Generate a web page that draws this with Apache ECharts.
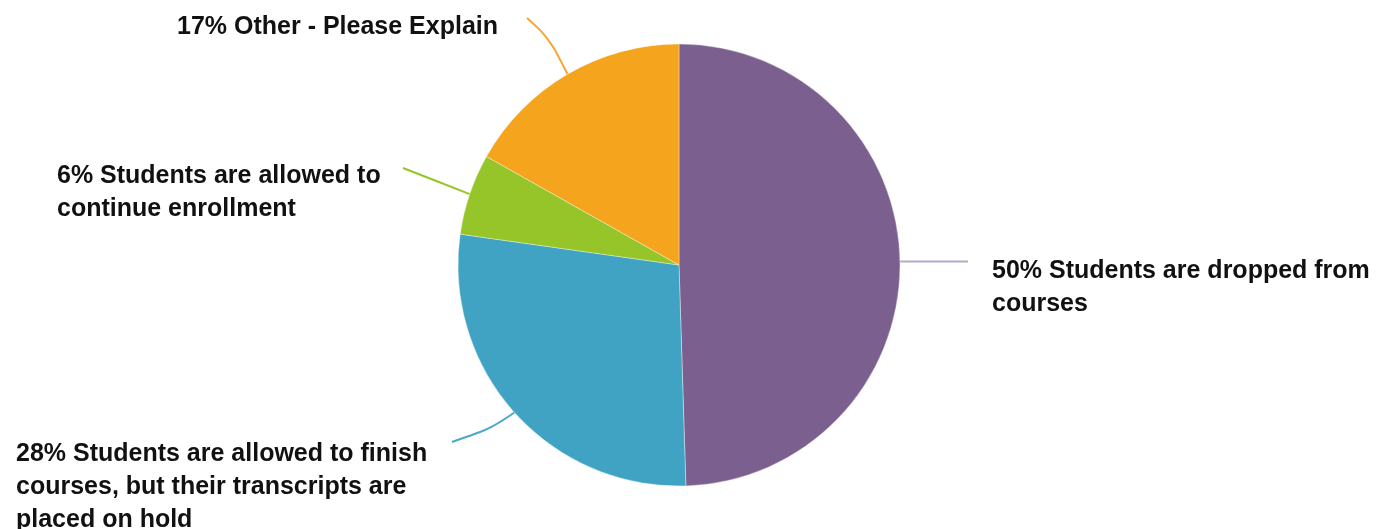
<!DOCTYPE html>
<html>
<head>
<meta charset="utf-8">
<style>
  html, body { margin: 0; padding: 0; background: #fff; }
  #chart { width: 1376px; height: 529px; }
</style>
<script src="https://cdn.jsdelivr.net/npm/echarts@6/dist/echarts.min.js"></script>
</head>
<body>
<div id="chart"></div>
<script>
// Responses, in drawing order (clockwise from 12 o'clock)
const categories = [
  'Students are dropped from\ncourses',
  'Students are allowed to finish\ncourses, but their transcripts are\nplaced on hold',
  'Students are allowed to\ncontinue enrollment',
  'Other - Please Explain'
];
const percents = [50, 28, 6, 17];
const colors = ['#7b5f8e', '#40a3c3', '#96c52a', '#f4a41d'];
const lineColors = ['#b8a8c6', '#4aa8c8', '#96c52a', '#f4a83a'];

// Where each label sits and how its leader line bends
const labelPlacement = [
  { x: 992, y: 255, align: 'left',  vAlign: 'top',    end: [968, null], mid: null },
  { x: 16,  y: 438, align: 'left',  vAlign: 'top',    end: [452, 442], mid: [492, 428] },
  { x: 57,  y: 160, align: 'left',  vAlign: 'top',    end: [403, 168], mid: null },
  { x: 498, y: 27,  align: 'right', vAlign: 'middle', end: [527, 18],  mid: [549, 38] }
];

const chart = echarts.init(document.getElementById('chart'), null, { renderer: 'canvas' });

chart.setOption({
  backgroundColor: '#ffffff',
  animation: false,
  series: [{
    type: 'pie',
    center: [679, 265],
    radius: 221,
    startAngle: 90,
    clockwise: true,
    avoidLabelOverlap: false,
    itemStyle: { borderColor: 'rgba(255,255,255,0.6)', borderWidth: 0.6 },
    label: {
      show: true,
      position: 'outside',
      formatter: p => p.value + '% ' + p.name,
      fontFamily: '"Liberation Sans", Arial, sans-serif',
      fontWeight: 'bold',
      fontSize: 25,
      lineHeight: 33,
      color: '#111111'
    },
    labelLine: { show: true, smooth: 0.35, lineStyle: { width: 2 } },
    labelLayout: function (params) {
      const p = labelPlacement[params.dataIndex];
      const start = params.labelLinePoints[0];
      const end = [p.end[0], p.end[1] == null ? start[1] : p.end[1]];
      const mid = p.mid || [(start[0] + end[0]) / 2, (start[1] + end[1]) / 2];
      return {
        x: p.x,
        y: p.y,
        align: p.align,
        verticalAlign: p.vAlign,
        labelLinePoints: [start, mid, end]
      };
    },
    data: categories.map((name, i) => ({
      name: name,
      value: percents[i],
      itemStyle: { color: colors[i] },
      labelLine: { lineStyle: { color: lineColors[i] }, smooth: labelPlacement[i].mid ? 0.35 : false }
    }))
  }]
});
</script>
</body>
</html>
